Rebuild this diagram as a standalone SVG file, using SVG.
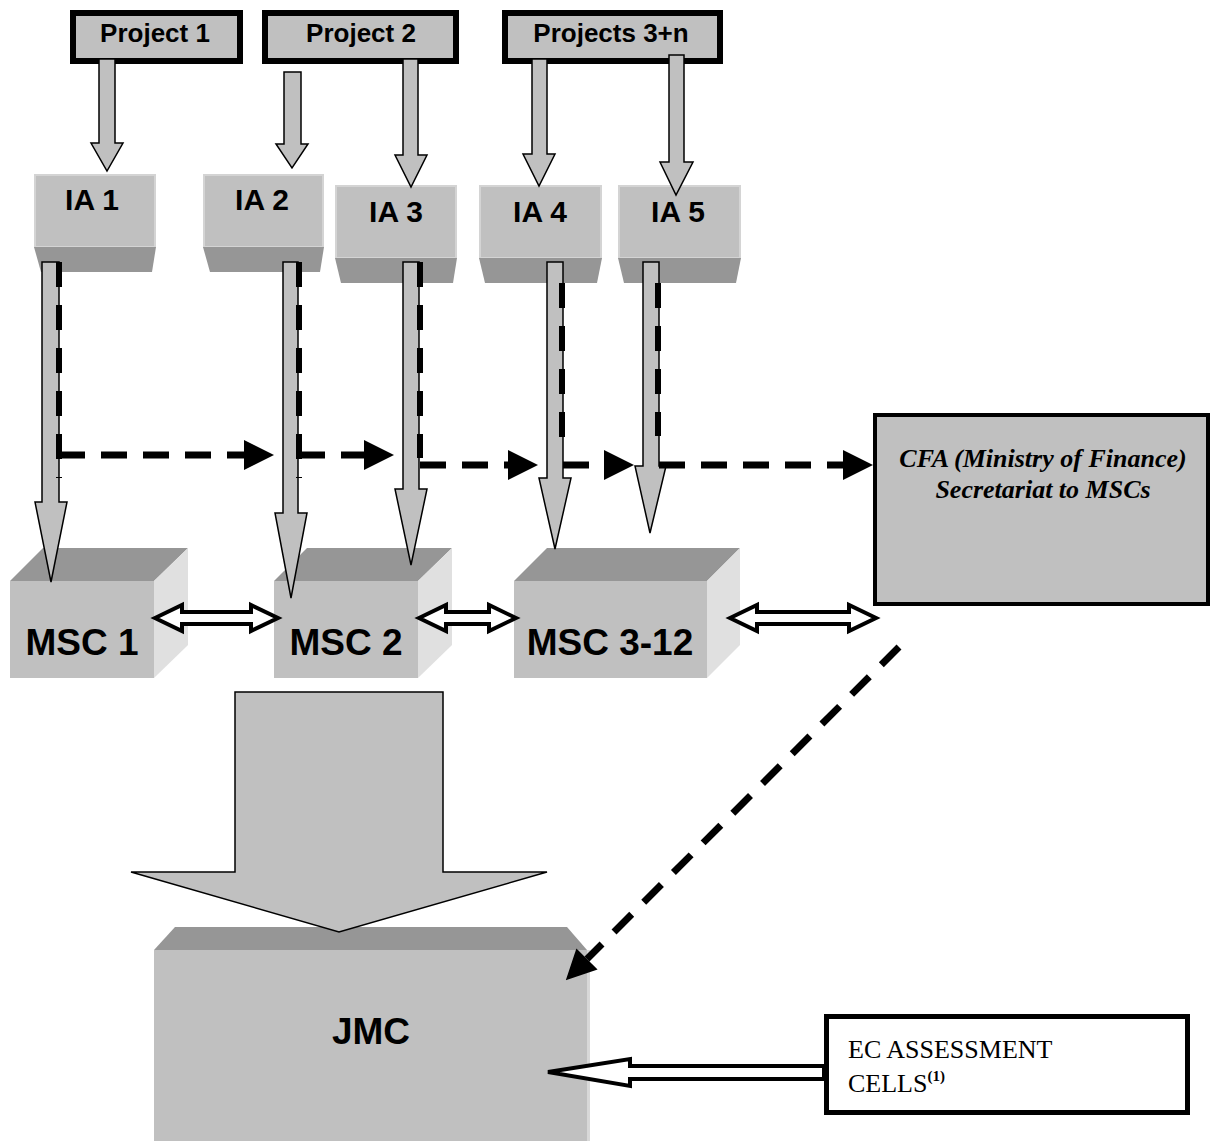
<svg xmlns="http://www.w3.org/2000/svg" width="1211" height="1141" viewBox="0 0 1211 1141">
<defs>
<style>
.proj{fill:#c0c0c0;stroke:#000;stroke-width:6}
.ptxt{font-family:"Liberation Sans",Arial,sans-serif;font-weight:bold;font-size:26px;fill:#000;text-anchor:middle}
.iaf{fill:#c0c0c0;stroke:#d4d4d4;stroke-width:2}
.iab{fill:#969696}
.iatxt{font-family:"Liberation Sans",Arial,sans-serif;font-weight:bold;font-size:30px;fill:#000;text-anchor:middle}
.front{fill:#c0c0c0}
.top{fill:#969696}
.side{fill:#e0e0e0}
.msctxt{font-family:"Liberation Sans",Arial,sans-serif;font-weight:bold;font-size:37px;fill:#000;text-anchor:middle}
.garrow{fill:#c0c0c0;stroke:#000;stroke-width:1.5;stroke-linejoin:miter}
.harrow{fill:#fff;stroke:#000;stroke-width:4;stroke-linejoin:miter}
.dashv{fill:none;stroke:#000;stroke-width:6;stroke-dasharray:25 18}
.dashh{fill:none;stroke:#000;stroke-width:7;stroke-dasharray:26 16}
.serif{font-family:"Liberation Serif","Times New Roman",serif;fill:#000}
</style>
<marker id="ah" markerUnits="userSpaceOnUse" markerWidth="30" markerHeight="30" refX="0" refY="15" orient="auto" viewBox="0 0 30 30">
<path d="M0,0 L30,15 L0,30 z" fill="#000"/>
</marker>
</defs>

<g id="project1"><rect class="proj" x="73" y="13" width="167" height="48"/><text class="ptxt" x="155" y="42">Project 1</text></g>
<g id="project2"><rect class="proj" x="265" y="13" width="191" height="48"/><text class="ptxt" x="361" y="42">Project 2</text></g>
<g id="projects3n"><rect class="proj" x="505" y="13" width="215" height="48"/><text class="ptxt" x="611" y="42">Projects 3+n</text></g>

<g id="ia1"><rect class="iaf" x="35" y="175" width="120" height="72"/><polygon class="iab" points="34,247 156,247 152,272 41,272"/><text class="iatxt" x="92" y="210">IA 1</text></g>
<g id="ia2"><rect class="iaf" x="204" y="175" width="119" height="72"/><polygon class="iab" points="203,247 324,247 320,272 210,272"/><text class="iatxt" x="262" y="210">IA 2</text></g>
<g id="ia3"><rect class="iaf" x="336" y="186" width="120" height="72"/><polygon class="iab" points="335,258 457,258 453,283 341,283"/><text class="iatxt" x="396" y="222">IA 3</text></g>
<g id="ia4"><rect class="iaf" x="480" y="186" width="121" height="72"/><polygon class="iab" points="479,258 602,258 597,283 485,283"/><text class="iatxt" x="540" y="222">IA 4</text></g>
<g id="ia5"><rect class="iaf" x="619" y="186" width="121" height="72"/><polygon class="iab" points="618,258 741,258 736,283 624,283"/><text class="iatxt" x="678" y="222">IA 5</text></g>

<g id="msc1"><polygon class="top" points="10,581 43,548 188,548 154,581"/><polygon class="side" points="154,581 188,548 188,645 154,678"/><rect class="front" x="10" y="581" width="144" height="97"/><text class="msctxt" x="82" y="655">MSC 1</text></g>
<g id="msc2"><polygon class="top" points="274,581 307,548 452,548 418,581"/><polygon class="side" points="418,581 452,548 452,645 418,678"/><rect class="front" x="274" y="581" width="144" height="97"/><text class="msctxt" x="346" y="655">MSC 2</text></g>
<g id="msc3"><polygon class="top" points="514,581 547,548 740,548 707,581"/><polygon class="side" points="707,581 740,548 740,645 707,678"/><rect class="front" x="514" y="581" width="193" height="97"/><text class="msctxt" x="610" y="655">MSC 3-12</text></g>

<g id="cfa"><rect x="875" y="415" width="333" height="189" fill="#c0c0c0" stroke="#000" stroke-width="4"/>
<text class="serif" x="1043" y="467" font-size="26" font-weight="bold" font-style="italic" text-anchor="middle">CFA (Ministry of Finance)</text>
<text class="serif" x="1043" y="498" font-size="26" font-weight="bold" font-style="italic" text-anchor="middle">Secretariat to MSCs</text></g>

<g id="jmc"><polygon class="top" points="154,950 175,927 567,927 587,950"/><rect x="154" y="950" width="436" height="191" fill="#d8d8d8"/><rect class="front" x="154" y="950" width="433" height="191"/><text class="msctxt" x="371" y="1044" font-size="42">JMC</text></g>

<g id="ec"><rect x="826.5" y="1016.5" width="361" height="96" fill="#fff" stroke="#000" stroke-width="5"/>
<text class="serif" x="848" y="1058" font-size="26">EC ASSESSMENT</text>
<text class="serif" x="848" y="1092" font-size="26">CELLS<tspan font-size="15" font-weight="bold" dy="-11">(1)</tspan></text></g>

<g id="connectors">
<polygon class="garrow" points="99,59 115,59 115,143 123,143 107,171 91,143 99,143"/>
<polygon class="garrow" points="284,72 301,72 301,144 308,144 292,168 276,144 284,144"/>
<polygon class="garrow" points="403,59 418,59 418,155 427,155 411,187 395,155 403,155"/>
<polygon class="garrow" points="532,59 547,59 547,154 555,154 539,186 523,154 532,154"/>
<polygon class="garrow" points="669,55 684,55 684,162 693,162 676,195 660,162 669,162"/>

<polygon class="garrow" points="42,262 59,262 59,502 67,502 51,582 35,502 42,502"/>
<polygon class="garrow" points="283,262 298,262 298,513 307,513 291,598 275,513 283,513"/>
<polygon class="garrow" points="403,262 419,262 419,489 427,489 411,565 395,489 403,489"/>
<polygon class="garrow" points="547,262 563,262 563,478 571,478 555,549 539,478 547,478"/>
<polygon class="garrow" points="643,262 659,262 659,466 666,466 650,533 635,466 643,466"/>

<path class="dashv" d="M59,262 V478"/>
<path class="dashh" d="M59,455 H244" marker-end="url(#ah)"/>
<path class="dashv" d="M299,262 V478"/>
<path class="dashh" d="M299,455 H364" marker-end="url(#ah)"/>
<path class="dashv" d="M420,262 V458"/>
<path class="dashh" d="M420,465 H508" marker-end="url(#ah)"/>
<path class="dashv" d="M562,283 V445"/>
<path class="dashh" d="M563,465 H604" marker-end="url(#ah)"/>
<path class="dashv" d="M658,283 V436"/>
<path class="dashh" d="M659,465 H843" marker-end="url(#ah)"/>

<polygon class="harrow" points="155,618 182,605 182,612 251,612 251,605 278,618 251,631 251,624 182,624 182,631"/>
<polygon class="harrow" points="419,618 446,605 446,612 489,612 489,605 516,618 489,631 489,624 446,624 446,631"/>
<polygon class="harrow" points="730,618 757,605 757,612 849,612 849,605 876,618 849,631 849,624 757,624 757,631"/>

<polygon class="garrow" points="235,692 443,692 443,872 547,872 339,932 131,872 235,872"/>

<path d="M899,647 L587,959" fill="none" stroke="#000" stroke-width="7" stroke-dasharray="25 17" marker-end="url(#ah)"/>

<polygon class="harrow" points="548,1072 630,1059 630,1066 824,1066 824,1079 630,1079 630,1086"/>
</g>
</svg>
